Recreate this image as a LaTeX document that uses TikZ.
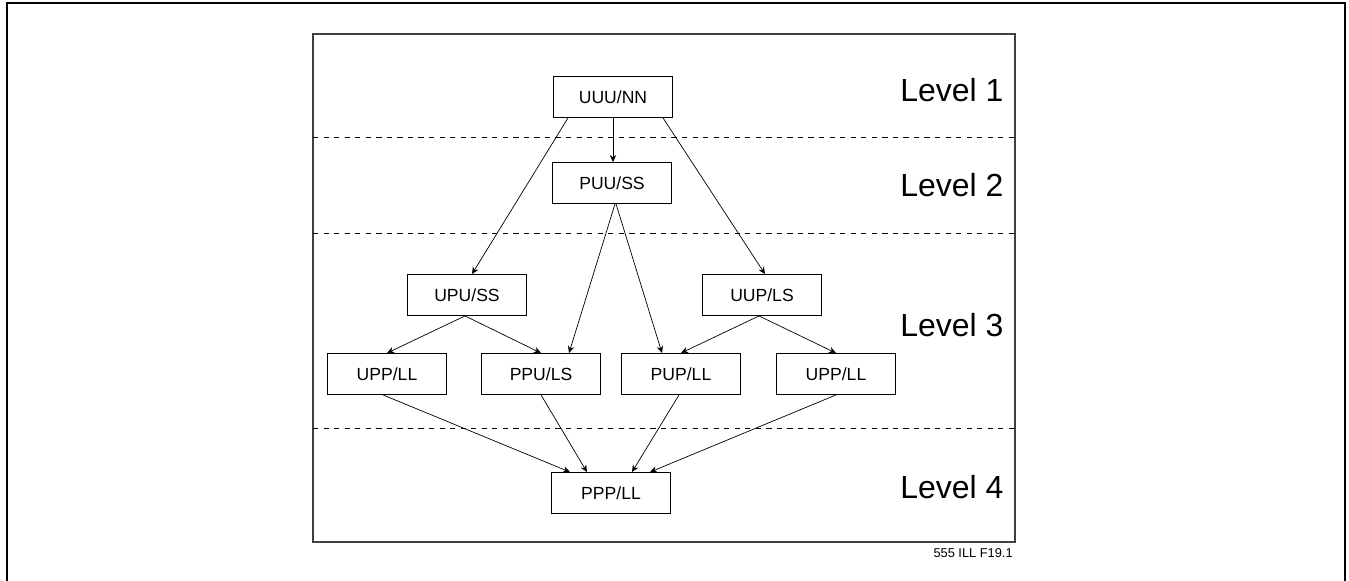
\documentclass[tikz,border=0pt]{standalone}
\usepackage{fontspec}
\setmainfont{Liberation Sans}
\usetikzlibrary{arrows.meta,calc}

\tikzset{
    box/.style={draw, line width=0.5pt, minimum width=2.38cm, minimum height=0.82cm,
        inner sep=0pt, font=\fontsize{10}{12}\selectfont},
    link/.style={-{Stealth[length=4pt,width=3.6pt]}, line width=0.4pt},
    levelname/.style={anchor=west, inner sep=0pt, font=\fontsize{18.2}{20}\selectfont},
    sep/.style={dashed, line width=0.5pt}
}

\begin{document}
\begin{tikzpicture}[x=0.02cm, y=-0.02cm]

    \useasboundingbox (0,0) rectangle (1349,581);
    \draw [line width=1.1pt] (7,581) -- (7,3) -- (1345,3) -- (1345,581);
    \draw [line width=0.6pt, black!75] (313,34) rectangle (1015,542);
    \draw [sep] (313,137) -- (1015,137);
    \draw [sep] (313,233) -- (1015,233);
    \draw [sep] (313,428) -- (1015,428);

    \node [levelname] (lvlone) at (900,90) {Level 1};
    \node [levelname] (lvltwo) at (900,185) {Level 2};
    \node [levelname] (lvlthree) at (900,325) {Level 3};
    \node [levelname] (lvlfour) at (900,487) {Level 4};
    \node [anchor=east, inner sep=0pt, font=\fontsize{7.3}{9}\selectfont] (figref) at (1013,553) {555 ILL F19.1};

    \node [box] (uuunn) at (613,97) {UUU/NN};
    \node [box] (puuss) at (612,183) {PUU/SS};
    \node [box] (upuss) at (467,295) {UPU/SS};
    \node [box] (uupls) at (762,295) {UUP/LS};
    \node [box] (uppll) at (387,374) {UPP/LL};
    \node [box] (ppuls) at (541,374) {PPU/LS};
    \node [box] (pupll) at (681,374) {PUP/LL};
    \node [box] (upplltwo) at (836,374) {UPP/LL};
    \node [box] (pppll) at (611,493) {PPP/LL};

    \draw [link] (uuunn.south) -- (uuunn.south |- puuss.north);
    \draw [link] ($(uuunn.south)+(-45,0)$) -- ($(upuss.north)+(5,0)$);
    \draw [link] ($(uuunn.south)+(50,0)$) -- ($(uupls.north)+(3,0)$);
    \draw [link] ($(puuss.south)+(3,0)$) -- ($(ppuls.north)+(28,0)$);
    \draw [link] ($(puuss.south)+(4,0)$) -- ($(pupll.north)+(-19,0)$);
    \draw [link] ($(upuss.south)+(-2,0)$) -- (uppll.north);
    \draw [link] ($(upuss.south)+(-2,0)$) -- (ppuls.north);
    \draw [link] ($(uupls.south)+(-3,0)$) -- (pupll.north);
    \draw [link] ($(uupls.south)+(-3,0)$) -- (upplltwo.north);
    \draw [link] ($(uppll.south)+(-4,0)$) -- ($(pppll.north)+(-41,0)$);
    \draw [link] (ppuls.south) -- ($(pppll.north)+(-24,0)$);
    \draw [link] ($(pupll.south)+(-2,0)$) -- ($(pppll.north)+(21,0)$);
    \draw [link] (upplltwo.south) -- ($(pppll.north)+(39,0)$);

\end{tikzpicture}
\end{document}
